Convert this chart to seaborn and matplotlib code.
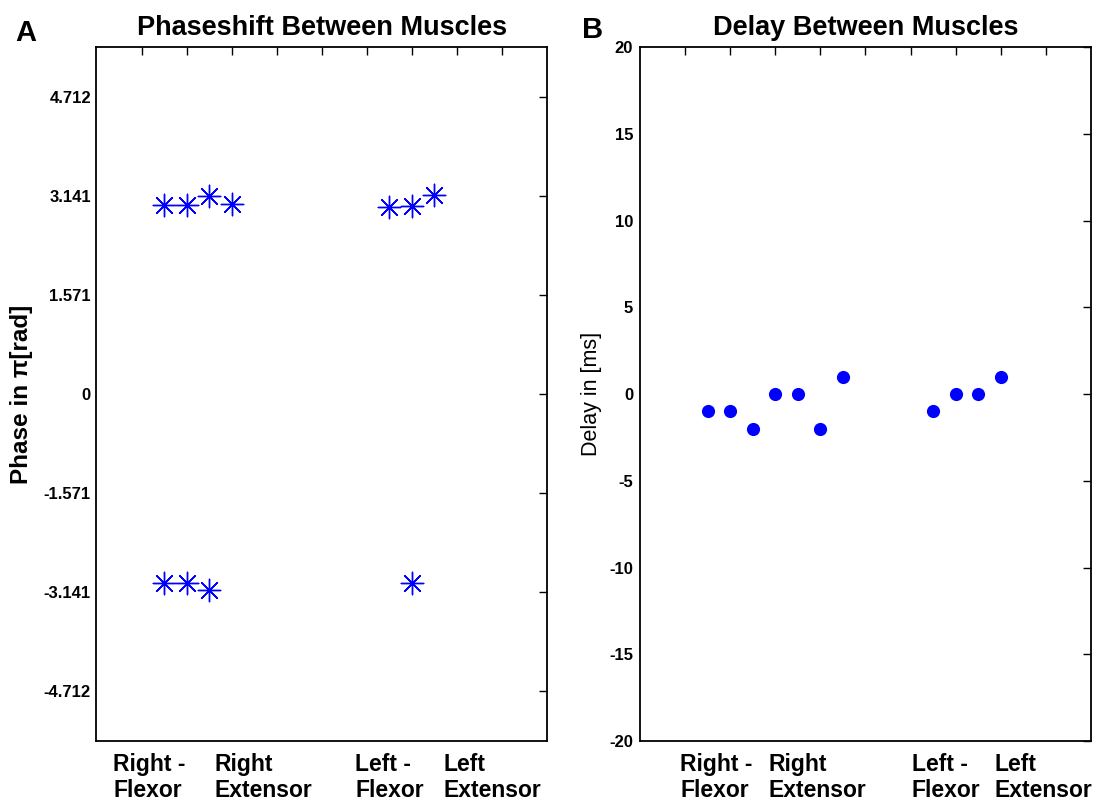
"""Two-panel figure: phase shift and delay between muscle pairs."""

import matplotlib

matplotlib.use("Agg")
import matplotlib.pyplot as plt
import matplotlib.transforms as mtransforms
import numpy as np
import pandas as pd
import seaborn as sns

# --- data --------------------------------------------------------------
phase_pos = [1.5, 2.0, 2.5, 3.0, 6.5, 7.0, 7.5, 1.5, 2.0, 2.5, 7.0]
phase_rad = [3.00, 3.00, 3.13, 3.01, 2.97, 2.98, 3.15, -3.00, -3.00, -3.10, -3.00]

delay_pos = [1.5, 2.0, 2.5, 3.0, 3.5, 4.0, 4.5, 6.5, 7.0, 7.5, 8.0]
delay_ms = [-1, -1, -2, 0, 0, -2, 1, -1, 0, 0, 1]

group_labels = ["Right -\nFlexor", "Right\nExtensor", "Left -\nFlexor", "Left\nExtensor"]
phase_ticks = [4.712, 3.141, 1.571, 0, -1.571, -3.141, -4.712]
phase_tick_labels = ["4.712", "3.141", "1.571", "0", "-1.571", "-3.141", "-4.712"]
delay_ticks = [20, 15, 10, 5, 0, -5, -10, -15, -20]
x_ticks = [1, 2, 3, 4, 5, 6, 7, 8, 9]

sns.set_style("white")
plt.rcParams["font.family"] = ["Liberation Sans", "DejaVu Sans"]
plt.rcParams.update({
    "text.color": "black",
    "axes.labelcolor": "black",
    "xtick.color": "black",
    "ytick.color": "black",
})

BLUE = "#0000ff"


def _style_axes(ax, yticks, ylabels):
    ax.set_xlim(0, 10)
    ax.set_xticks(x_ticks)
    ax.set_xticklabels([])
    ax.set_yticks(yticks)
    ax.set_yticklabels(ylabels, fontsize=12, fontweight="bold")
    ax.tick_params(direction="in", top=True, right=True, length=6, width=1,
                   color="black", labelcolor="black", pad=4)
    ax.tick_params(axis="y", labelright=False)
    for spine in ax.spines.values():
        spine.set_visible(True)
        spine.set_linewidth(1.3)
        spine.set_color("black")
    ax.set_xlabel("")


def _group_text(ax, xs):
    trans = mtransforms.blended_transform_factory(ax.transData, ax.transAxes)
    for x, label in zip(xs, group_labels):
        ax.text(x, -0.018, label, transform=trans, ha="left", va="top",
                fontsize=16.5, fontweight="bold", linespacing=1.12, color="black")


fig = plt.figure(figsize=(11.04, 8.05), dpi=100)
ax_a = fig.add_axes([0.0874, 0.0795, 0.4081, 0.8621])
ax_b = fig.add_axes([0.5797, 0.0795, 0.4085, 0.8621])

# Panel A
phase_df = pd.DataFrame({"pos": phase_pos, "phase": phase_rad})
sns.scatterplot(data=phase_df, x="pos", y="phase", marker=(8, 2, 0), s=260,
                color=BLUE, linewidth=1.0, ax=ax_a)
ax_a.set_ylim(-1.75 * np.pi, 1.75 * np.pi)
_style_axes(ax_a, phase_ticks, phase_tick_labels)
ax_a.set_ylabel("Phase in \u03c0[rad]", fontsize=17.5, fontweight="bold")
ax_a.yaxis.set_label_coords(-0.141, 0.5)
ax_a.set_title("Phaseshift Between Muscles", fontsize=19.5, fontweight="bold", pad=9)
_group_text(ax_a, [0.37, 2.63, 5.74, 7.70])

# Panel B
delay_df = pd.DataFrame({"pos": delay_pos, "delay": delay_ms})
sns.scatterplot(data=delay_df, x="pos", y="delay", marker="o", s=90,
                color=BLUE, linewidth=0, ax=ax_b)
ax_b.set_ylim(-20, 20)
_style_axes(ax_b, delay_ticks, [str(t) for t in delay_ticks])
ax_b.tick_params(axis="y", pad=5)
ax_b.set_ylabel("Delay in [ms]", fontsize=15.5)
ax_b.yaxis.set_label_coords(-0.084, 0.5)
ax_b.set_title("Delay Between Muscles", fontsize=19.5, fontweight="bold", pad=9)
_group_text(ax_b, [0.89, 2.86, 6.03, 7.87])

fig.text(15 / 1104, 1 - 41 / 805, "A", fontsize=21, fontweight="bold", va="baseline")
fig.text(582 / 1104, 1 - 38 / 805, "B", fontsize=21, fontweight="bold", va="baseline")

fig.savefig("out.png", dpi=100)
plt.close(fig)
